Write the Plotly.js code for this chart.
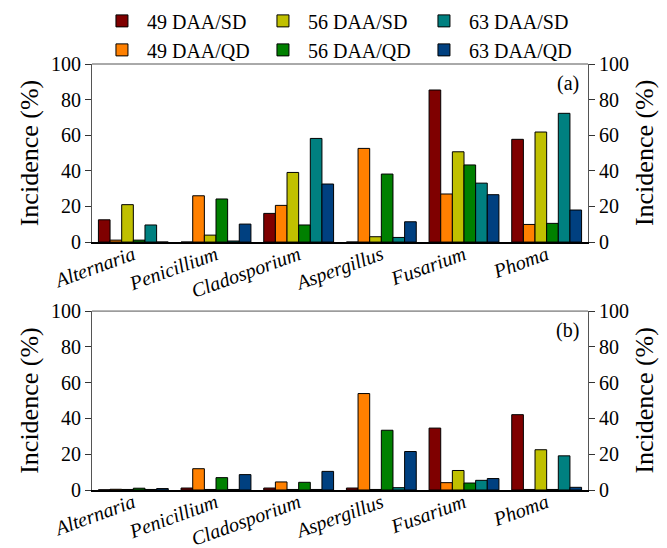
<!DOCTYPE html>
<html>
<head>
<meta charset="utf-8">
<script src="https://cdn.plot.ly/plotly-3.0.1.min.js"></script>
<style>html,body{margin:0;padding:0;background:#fff;}#chart{width:667px;height:548px;}</style>
</head>
<body>
<div id="chart"></div>
<script>
var categories = ['Alternaria', 'Penicillium', 'Cladosporium', 'Aspergillus', 'Fusarium', 'Phoma'];
var seriesNames = ['49 DAA/SD', '49 DAA/QD', '56 DAA/SD', '56 DAA/QD', '63 DAA/SD', '63 DAA/QD'];
var legendOrder = [1, 4, 2, 5, 3, 6];
var colors = ['#7f0000', '#ff8000', '#c0c000', '#008000', '#008080', '#004080'];

// Panel (a)
var a_49SD = [12.5, 0, 16.1, 0, 85.4, 57.7];
var a_49QD = [1.1, 26.0, 20.6, 52.6, 27.0, 9.9];
var a_56SD = [21.0, 3.9, 39.1, 3.0, 50.7, 61.8];
var a_56QD = [1.1, 24.2, 9.6, 38.2, 43.3, 10.5];
var a_63SD = [9.6, 0.6, 58.2, 2.6, 33.1, 72.3];
var a_63QD = [0, 10.1, 32.6, 11.4, 26.6, 18.0];

// Panel (b)
var b_49SD = [0.1, 1.1, 1.1, 1.1, 34.6, 42.1];
var b_49QD = [0.4, 11.9, 4.5, 53.9, 4.1, 0.3];
var b_56SD = [0.3, 0.3, 0.3, 0.3, 10.9, 22.5];
var b_56QD = [1.0, 6.9, 4.3, 33.4, 3.9, 0.3];
var b_63SD = [0.3, 0.3, 0.3, 1.3, 5.4, 19.1];
var b_63QD = [0.8, 8.6, 10.4, 21.5, 6.4, 1.5];

var yTicks = [0, 20, 40, 60, 80, 100];
var yTitle = 'Incidence (%)';

var panelA = [a_49SD, a_49QD, a_56SD, a_56QD, a_63SD, a_63QD];
var panelB = [b_49SD, b_49QD, b_56SD, b_56QD, b_63SD, b_63QD];

var FONT = 'Liberation Serif';
var traces = [];
panelA.forEach(function (vals, i) {
  traces.push({
    type: 'bar', x: categories, y: vals, name: seriesNames[i],
    xaxis: 'x', yaxis: 'y', legendrank: legendOrder[i],
    marker: {color: colors[i], line: {color: '#000', width: 1}},
    hoverinfo: 'x+y+name'
  });
});
panelB.forEach(function (vals, i) {
  traces.push({
    type: 'bar', x: categories, y: vals, name: seriesNames[i],
    xaxis: 'x2', yaxis: 'y2', showlegend: false,
    marker: {color: colors[i], line: {color: '#000', width: 1}},
    hoverinfo: 'x+y+name'
  });
});
// invisible carriers so the right-hand (mirrored) axes get drawn
traces.push({type: 'scatter', mode: 'markers', x: categories, y: a_49SD, xaxis: 'x', yaxis: 'y3',
  marker: {size: 1, opacity: 0}, showlegend: false, hoverinfo: 'skip'});
traces.push({type: 'scatter', mode: 'markers', x: categories, y: b_49SD, xaxis: 'x2', yaxis: 'y4',
  marker: {size: 1, opacity: 0}, showlegend: false, hoverinfo: 'skip'});

var dA = [0.582, 1], dB = [0, 0.42];

function yax(domain, anchor, side, overlay) {
  var o = {
    domain: domain, anchor: anchor, range: [0, 100], tickvals: yTicks,
    ticks: 'outside', ticklen: 6, tickcolor: '#333', side: side,
    showline: true, linecolor: '#555', linewidth: 1, showgrid: false, zeroline: false,
    tickfont: {family: FONT, size: 20, color: '#000'},
    fixedrange: true
  };
  if (overlay) {
    o.overlaying = overlay;
  } else {
    o.title = {text: yTitle, font: {family: FONT, size: 26, color: '#000'}, standoff: 4};
  }
  return o;
}
function xax(domain, anchor) {
  return {
    domain: [0, 1], anchor: anchor, type: 'category', categoryarray: categories,
    showline: true, linecolor: '#000', linewidth: 1.5, mirror: false,
    ticks: '', tickangle: -20, showgrid: false, ticklabelstandoff: -8,
    tickfont: {family: FONT, size: 20, color: '#000', style: 'italic'},
    fixedrange: true
  };
}

var layout = {
  width: 667, height: 548,
  margin: {l: 92, r: 79, t: 64, b: 58, autoexpand: false},
  paper_bgcolor: '#fff', plot_bgcolor: '#fff',
  barmode: 'group', bargap: 0.155, bargroupgap: 0,
  font: {family: FONT, color: '#000'},
  xaxis: xax(dA, 'y'),
  xaxis2: xax(dB, 'y2'),
  yaxis: yax(dA, 'x', 'left'),
  yaxis2: yax(dB, 'x2', 'left'),
  yaxis3: yax(dA, 'x', 'right', 'y'),
  yaxis4: yax(dB, 'x2', 'right', 'y2'),
  legend: {
    orientation: 'h', x: 0.01, xanchor: 'left', y: 1.147, yanchor: 'top',
    entrywidth: 106, entrywidthmode: 'pixels',
    font: {family: FONT, size: 20, color: '#000'},
    bgcolor: 'rgba(0,0,0,0)', traceorder: 'normal', itemwidth: 40
  },
  shapes: [
    {type: 'line', xref: 'paper', yref: 'paper', x0: 0, x1: 1, y0: 1, y1: 1, line: {color: '#555', width: 1}},
    {type: 'line', xref: 'paper', yref: 'paper', x0: 0, x1: 1, y0: 0.42, y1: 0.42, line: {color: '#555', width: 1}}
  ],
  annotations: [
    {xref: 'paper', yref: 'paper', x: 0.985, y: 0.985, xanchor: 'right', yanchor: 'top', showarrow: false,
     text: '(a)', font: {family: FONT, size: 20, color: '#000'}},
    {xref: 'paper', yref: 'paper', x: 0.985, y: 0.405, xanchor: 'right', yanchor: 'top', showarrow: false,
     text: '(b)', font: {family: FONT, size: 20, color: '#000'}},
    {xref: 'paper', yref: 'paper', x: 1.113, y: 0.791, xanchor: 'center', yanchor: 'middle', showarrow: false,
     textangle: -90, text: yTitle, font: {family: FONT, size: 26, color: '#000'}},
    {xref: 'paper', yref: 'paper', x: 1.113, y: 0.21, xanchor: 'center', yanchor: 'middle', showarrow: false,
     textangle: -90, text: yTitle, font: {family: FONT, size: 26, color: '#000'}}
  ]
};

Plotly.newPlot('chart', traces, layout, {displayModeBar: false, staticPlot: true});
</script>
</body>
</html>
